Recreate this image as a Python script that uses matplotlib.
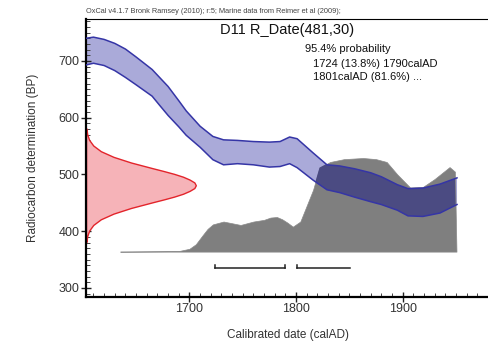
import numpy as np
import matplotlib.pyplot as plt
from matplotlib.ticker import MultipleLocator

plt.rcParams['font.family'] = ['Liberation Sans', 'DejaVu Sans']

# Calibration curve band (BP)
band_years = [1603, 1610, 1620, 1630, 1640, 1650, 1665, 1672, 1680, 1690, 1697, 1710,
              1722, 1732, 1745, 1760, 1775, 1785, 1794, 1801, 1816, 1829, 1841, 1855,
              1870, 1880, 1895, 1905, 1919, 1935, 1951]
band_upper = [740, 742, 738, 731, 721, 707, 685, 671, 655, 630, 612, 585,
              567, 561, 560, 558, 557, 558, 566, 563, 538, 517, 515, 510,
              503, 496, 482, 475, 476, 483, 494]
band_lower = [693, 696, 692, 683, 671, 658, 638, 622, 604, 584, 569, 548,
              526, 517, 519, 517, 513, 514, 519, 512, 490, 473, 468, 460,
              452, 447, 437, 427, 426, 432, 447]

# Calibrated probability distribution (gray), top edge in BP units
cal_years = [1635, 1690, 1700, 1706, 1712, 1717, 1722, 1732, 1740, 1748, 1760, 1770,
             1776, 1782, 1787, 1792, 1797, 1804, 1810, 1816, 1822, 1832, 1845, 1863,
             1875, 1885, 1895, 1907, 1919, 1930, 1944, 1949, 1950.5]
cal_top = [364, 365, 369, 377, 392, 404, 412, 417, 414, 411, 417, 420,
           424, 425, 421, 415, 408, 417, 445, 473, 512, 522, 527, 529,
           527, 522, 500, 477, 478, 492, 513, 505, 364]
cal_base = 364

# Radiocarbon date distribution (red): BP values and width in years
rc_bp = [381, 391, 401, 411, 421, 431, 441, 451, 456, 461, 466, 471, 476, 481,
         486, 491, 496, 501, 506, 511, 521, 531, 541, 551, 561, 571, 581]
rc_width = [0.4, 1.1, 2.9, 6.8, 13.9, 25.8, 42.3, 62.5, 72.9, 82.7, 91.0, 97.1, 101.6, 103,
            101.6, 97.1, 91.0, 82.7, 72.9, 62.5, 42.3, 25.8, 13.9, 6.8, 2.9, 1.1, 0.4]

# 95.4% ranges
ranges = [(1724, 1790, True), (1801, 1851, False)]
range_bp = 336

xmin, xmax = 1603, 1981
ymin, ymax = 284, 774

fig = plt.figure(figsize=(4.89, 3.46), dpi=100)
ax = fig.add_axes([0.1759, 0.1416, 0.8241, 0.8035])
ax.set_xlim(xmin, xmax)
ax.set_ylim(ymin, ymax)

# red date distribution
rc_left = np.full(len(rc_bp), xmin)
ax.fill_betweenx(rc_bp, rc_left, xmin + np.array(rc_width),
                 facecolor='#f6b3b8', edgecolor='#e3242b', lw=1.0, zorder=2)

# band (light)
ax.fill_between(band_years, band_lower, band_upper, facecolor='#aaaad9',
                edgecolor='none', zorder=1)

# gray calibrated distribution
gray = ax.fill_between(cal_years, cal_base, cal_top, facecolor='#7f7f7f',
                       edgecolor='#8a8a8a', lw=0.5, zorder=3)

# overlap of band and gray, darker
over = ax.fill_between(band_years, band_lower, band_upper, facecolor='#4b4b82',
                       edgecolor='none', zorder=4)
over.set_clip_path(gray.get_paths()[0], ax.transData)

ax.plot(band_years, band_upper, color='#3535a6', lw=1.1, zorder=5)
ax.plot(band_years, band_lower, color='#3535a6', lw=1.1, zorder=5)

# range brackets
for a, b, right_tick in ranges:
    ax.plot([a, b], [range_bp, range_bp], color='#222222', lw=1.1, zorder=5)
    ax.plot([a, a], [range_bp, range_bp + 5], color='#222222', lw=1.1, zorder=5)
    if right_tick:
        ax.plot([b, b], [range_bp, range_bp + 5], color='#222222', lw=1.1, zorder=5)

# axes styling
ax.spines['right'].set_visible(False)
ax.spines['left'].set_linewidth(1.6)
ax.spines['bottom'].set_linewidth(1.6)
ax.spines['top'].set_linewidth(0.8)
ax.xaxis.set_major_locator(MultipleLocator(100))
ax.xaxis.set_minor_locator(MultipleLocator(10))
ax.yaxis.set_major_locator(MultipleLocator(100))
ax.yaxis.set_minor_locator(MultipleLocator(10))
ax.tick_params(which='major', direction='inout', length=7, width=1.0,
               labelsize=9, labelcolor='#333333', color='#222222')
ax.tick_params(which='minor', direction='in', length=3, width=0.7, color='#444444')
ax.tick_params(axis='x', top=False, pad=1)
ax.tick_params(axis='y', pad=1)

ax.set_xlabel('Calibrated date (calAD)', fontsize=8.5, color='#333333', labelpad=10)
ax.set_ylabel('Radiocarbon determination (BP)', fontsize=8.5, color='#333333', labelpad=14)

fig.text(0.176, 0.958, 'OxCal v4.1.7 Bronk Ramsey (2010); r:5; Marine data from Reimer et al (2009);',
         fontsize=5.3, color='#444444', va='bottom', ha='left')
ax.text(0.5, 0.985, 'D11 R_Date(481,30)', transform=ax.transAxes, ha='center', va='top',
        fontsize=10.5, color='#111111')
ax.text(0.543, 0.91, '95.4% probability', transform=ax.transAxes, ha='left', va='top',
        fontsize=8, color='#111111')
ax.text(0.563, 0.855, '1724 (13.8%) 1790calAD\n1801calAD (81.6%) ...',
        transform=ax.transAxes, ha='left', va='top', fontsize=8, color='#111111',
        linespacing=1.35)

fig.savefig('out.png', dpi=100)
